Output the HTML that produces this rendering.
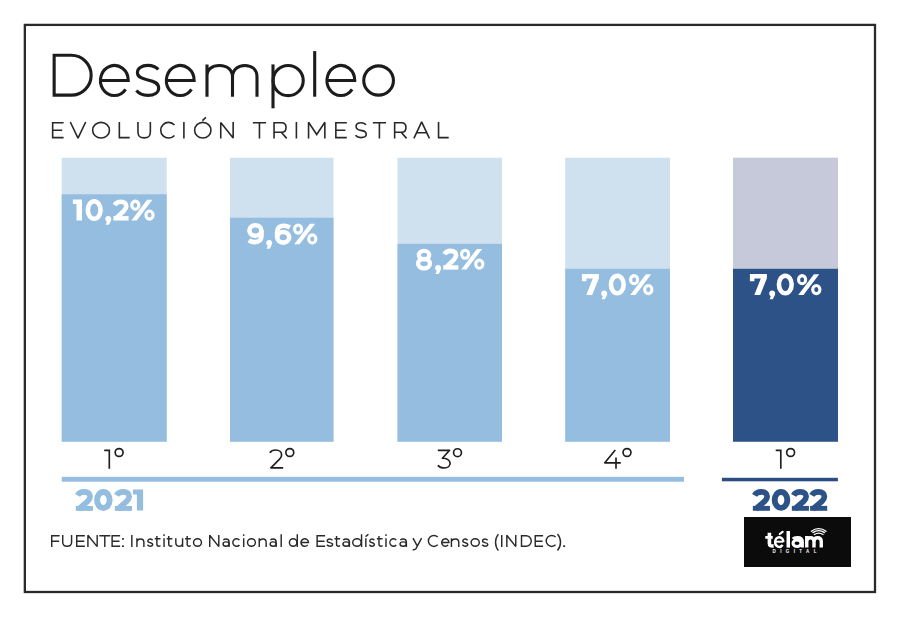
<!DOCTYPE html>
<html><head><meta charset="utf-8">
<style>
html,body{margin:0;padding:0;background:#fff;}
body{width:900px;height:617px;position:relative;overflow:hidden;font-family:"Liberation Sans",sans-serif;}
.t{position:absolute;white-space:nowrap;line-height:1;transform-origin:0 0;}
.r{position:absolute;}
</style></head><body>
<svg class="r" style="left:0;top:0" width="900" height="617" viewBox="0 0 900 617">
<g>
<rect x="24.85" y="24.9" width="850.15" height="567.1" fill="none" stroke="#2a2a2a" stroke-width="2.3"/>
<rect x="61.7" y="157.7" width="105" height="284" fill="#cfe1ef"/><rect x="61.7" y="194.3" width="105" height="247.4" fill="#95bde0"/>
<rect x="230" y="157.7" width="103.5" height="284" fill="#cfe1ef"/><rect x="230" y="217.75" width="103.5" height="223.95" fill="#95bde0"/>
<rect x="397.5" y="157.7" width="104.5" height="284" fill="#cfe1ef"/><rect x="397.5" y="243.8" width="104.5" height="197.9" fill="#95bde0"/>
<rect x="565.2" y="157.7" width="104.8" height="284" fill="#cfe1ef"/><rect x="565.2" y="268.8" width="104.8" height="172.9" fill="#95bde0"/>
<rect x="733" y="157.7" width="105" height="284" fill="#c6c9da"/><rect x="733" y="268.8" width="105" height="172.9" fill="#2c5287"/>
<rect x="61.8" y="476.9" width="622.2" height="4.8" fill="#95bde0"/>
<rect x="721.9" y="477.8" width="116" height="3.5" fill="#2b4c82"/>
<rect x="744" y="517" width="107" height="50" fill="#0b0b0b"/>
</g><g fill="none" stroke="#1e1e1e" stroke-width="1.65" stroke-linejoin="miter" stroke-linecap="butt">
<path d="M104.2,450.3 H109.3 V468.8"/><circle cx="119.1" cy="452.5" r="3.95"/>
<path stroke-linejoin="round" d="M269.9,452.8 C271,450.9 273.2,450 275.9,450 C279.2,450 281.6,452 281.6,454.9 C281.6,456.4 281,457.7 279.6,459.1 L270.9,467.9 H283.2"/><circle cx="289.8" cy="452.5" r="3.95"/>
<path stroke-linejoin="round" d="M437.8,450.3 H449.6 L442.4,458.3 C446.8,458.1 450.1,460.4 450.1,463.3 C450.1,466.1 447.8,468 444.5,468 C441.7,468 439.3,467.1 437.8,465.4"/><circle cx="457.5" cy="452.7" r="3.95"/>
<path stroke-linejoin="round" d="M615.3,449.9 L604.8,462.8 H620.8 M616,457.4 V468.8"/><circle cx="627" cy="452.5" r="3.95"/>
<path d="M775.7,450.3 H780.8 V468.8"/><circle cx="790.6" cy="452.5" r="3.95"/>
</g>
<g fill="none" stroke="#fff" stroke-width="1.35" stroke-linecap="round"><path d="M811.45,531.3 A11.4,11.4 0 0 1 825.95,531.3"/><path d="M812.95,532.6 A9.25,9.25 0 0 1 824.45,532.6"/><path d="M814.35,534.5 A7.9,7.9 0 0 1 823.05,534.5"/></g>
<g fill="none" stroke="#1c1c1c" stroke-width="3.1"><path d="M54.15,55.25 H71.2 A19.95,19.95 0 0 1 71.2,95.15 H54.15 Z" stroke-linejoin="miter"/><path d="M100.45,80.45 H128.25 A13.9,15.0 0 1 0 125.60,89.27"/><path d="M158.3,69.6 C155.8,66.6 152,65.4 147.8,65.4 C141.4,65.4 137.4,68.4 137.4,72.4 C137.4,77.2 142,78.6 147.8,79.9 C154.4,81.3 158.7,83 158.7,88.1 C158.7,92.6 154.4,95.4 147.8,95.4 C142.9,95.4 138.9,93.6 136.4,90.6"/><path d="M166.35,80.45 H194.15 A13.9,15.0 0 1 0 191.50,89.27"/><path d="M207,64.4 V96.7 M207,76 C207,69.5 212,65.45 219.5,65.45 C227.5,65.45 232.5,70 232.5,77 V96.7 M232.5,77 C232.5,70 237.5,65.45 244.8,65.45 C252.5,65.45 257,70 257,77 V96.7"/><path d="M273,64.4 V108.3"/><circle cx="288.15" cy="80.55" r="15.1"/><path d="M314.7,51.1 V96.7"/><path d="M326.95,80.45 H354.75 A13.9,15.0 0 1 0 352.10,89.27"/><ellipse cx="378.6" cy="80.5" rx="14.85" ry="14.65"/></g><g fill="none" stroke="#282828" stroke-width="1.6" stroke-miterlimit="2"><path d="M63.60,122.75 H52.65 V137.65 H63.60 M52.65,130.20 H62.20 M70.30,122.00 L78.00,138.10 L85.70,122.00 M119.35,122.00 V137.65 H129.70 M137.95,122.00 V131.80 C137.95,136.15 139.50,137.85 144.15,137.85 C148.80,137.85 150.35,136.15 150.35,131.80 V122.00 M174.43,124.95 A7.85,7.85 0 1 0 174.43,135.45 M183.90,122.00 V138.40 M202.4,120.6 L205.9,117.3 M220.75,138.40 V122.40 L233.15,138.00 V122.00 M252.80,122.75 H266.10 M259.45,122.75 V138.40 M274.05,138.40 V122.75 H281.65 C284.55,122.75 286.05,124.75 286.05,127.47 C286.05,130.20 284.55,132.20 281.65,132.20 H274.05 M281.25,132.20 L286.70,138.40 M296.40,122.00 V138.40 M308.55,138.40 V122.30 L316.70,134.45 L324.85,122.30 V138.40 M346.80,122.75 H335.85 V137.65 H346.80 M335.85,130.20 H345.40 M366.05,124.75 C364.65,123.35 362.75,122.75 360.95,122.75 C358.05,122.75 356.05,124.25 356.05,126.45 C356.05,129.40 358.65,130.00 360.95,130.40 C363.75,130.80 366.25,131.60 366.25,134.35 C366.25,136.55 364.05,137.65 360.95,137.65 C358.55,137.65 356.65,136.75 355.45,135.35 M372.80,122.75 H386.00 M379.40,122.75 V138.40 M394.65,138.40 V122.75 H401.55 C404.45,122.75 405.95,124.75 405.95,127.47 C405.95,130.20 404.45,132.20 401.55,132.20 H394.65 M401.15,132.20 L406.60,138.40 M413.90,138.40 L421.65,121.80 L429.40,138.40 M416.90,132.7 H426.40 M438.55,122.00 V137.65 H448.70"/><ellipse cx="101.05" cy="130.20" rx="8.40" ry="7.85"/><ellipse cx="202.80" cy="130.20" rx="8.15" ry="7.85"/></g><g transform="translate(72.90,199.50)"><path fill="#fff" d="M0,0 H9.1 V21 H3.6 V4.4 H0 Z"/></g><g transform="translate(85.50,199.50)"><ellipse fill="none" stroke="#fff" stroke-width="4.6" cx="8.7" cy="10.5" rx="6.35" ry="8.8"/></g><g transform="translate(105.00,199.50)"><path fill="#fff" d="M3.2,16.5 C5,16.5 6.3,17.7 6.3,19.4 C6.3,20.4 6,21.2 5.4,22.4 L3.9,25.3 H0.7 L1.9,22.2 C0.9,21.6 0.3,20.6 0.3,19.4 C0.3,17.7 1.5,16.5 3.2,16.5 Z"/></g><g transform="translate(113.10,199.50)"><path fill="#fff" d="M0.3,16.6 H15.5 V21 H0.3 Z"/><path fill="none" stroke="#fff" stroke-width="4.6" d="M1.6,5.6 C2.9,3.1 5.2,2.3 7.8,2.3 C11.3,2.3 13.2,4.1 13.2,6.7 C13.2,8.3 12.5,9.6 10.8,11.3 L2.6,19.2"/></g><g transform="translate(130.20,199.50)"><ellipse fill="none" stroke="#fff" stroke-width="3.1" cx="5.1" cy="5.65" rx="3.55" ry="4.05"/><path fill="#fff" d="M16.9,0.3 H22.2 L6.5,20.9 H1.2 Z"/><ellipse fill="none" stroke="#fff" stroke-width="3.1" cx="19.3" cy="15.55" rx="3.6" ry="4.05"/></g><g transform="translate(246.90,223.40)"><g><ellipse fill="none" stroke="#fff" stroke-width="4.6" cx="8.5" cy="7.1" rx="6.0" ry="5.3"/><path fill="none" stroke="#fff" stroke-width="4.6" d="M14.6,7 V12.3 C14.6,16.8 11.8,18.7 8.1,18.7 C5.7,18.7 3.7,18.1 1.9,16.9"/></g></g><g transform="translate(265.90,223.40)"><path fill="#fff" d="M3.2,16.5 C5,16.5 6.3,17.7 6.3,19.4 C6.3,20.4 6,21.2 5.4,22.4 L3.9,25.3 H0.7 L1.9,22.2 C0.9,21.6 0.3,20.6 0.3,19.4 C0.3,17.7 1.5,16.5 3.2,16.5 Z"/></g><g transform="translate(274.70,223.40)"><g transform="rotate(180 8.5 10.5)"><ellipse fill="none" stroke="#fff" stroke-width="4.6" cx="8.5" cy="7.1" rx="6.0" ry="5.3"/><path fill="none" stroke="#fff" stroke-width="4.6" d="M14.6,7 V12.3 C14.6,16.8 11.8,18.7 8.1,18.7 C5.7,18.7 3.7,18.1 1.9,16.9"/></g></g><g transform="translate(293.00,223.40)"><ellipse fill="none" stroke="#fff" stroke-width="3.1" cx="5.1" cy="5.65" rx="3.55" ry="4.05"/><path fill="#fff" d="M16.9,0.3 H22.2 L6.5,20.9 H1.2 Z"/><ellipse fill="none" stroke="#fff" stroke-width="3.1" cx="19.3" cy="15.55" rx="3.6" ry="4.05"/></g><g transform="translate(415.60,248.60)"><ellipse fill="none" stroke="#fff" stroke-width="4.2" cx="8.4" cy="6.5" rx="5.2" ry="4.35"/><ellipse fill="none" stroke="#fff" stroke-width="4.3" cx="8.4" cy="15.0" rx="5.95" ry="4.75"/></g><g transform="translate(434.80,248.60)"><path fill="#fff" d="M3.2,16.5 C5,16.5 6.3,17.7 6.3,19.4 C6.3,20.4 6,21.2 5.4,22.4 L3.9,25.3 H0.7 L1.9,22.2 C0.9,21.6 0.3,20.6 0.3,19.4 C0.3,17.7 1.5,16.5 3.2,16.5 Z"/></g><g transform="translate(442.90,248.60)"><path fill="#fff" d="M0.3,16.6 H15.5 V21 H0.3 Z"/><path fill="none" stroke="#fff" stroke-width="4.6" d="M1.6,5.6 C2.9,3.1 5.2,2.3 7.8,2.3 C11.3,2.3 13.2,4.1 13.2,6.7 C13.2,8.3 12.5,9.6 10.8,11.3 L2.6,19.2"/></g><g transform="translate(460.00,248.60)"><ellipse fill="none" stroke="#fff" stroke-width="3.1" cx="5.1" cy="5.65" rx="3.55" ry="4.05"/><path fill="#fff" d="M16.9,0.3 H22.2 L6.5,20.9 H1.2 Z"/><ellipse fill="none" stroke="#fff" stroke-width="3.1" cx="19.3" cy="15.55" rx="3.6" ry="4.05"/></g><g transform="translate(581.90,274.00)"><path fill="#fff" d="M0,0 H17 V4.2 L10.3,21 H4.4 L10.9,4.4 H4.5 V7.3 H0 Z"/></g><g transform="translate(600.90,274.00)"><path fill="#fff" d="M3.2,16.5 C5,16.5 6.3,17.7 6.3,19.4 C6.3,20.4 6,21.2 5.4,22.4 L3.9,25.3 H0.7 L1.9,22.2 C0.9,21.6 0.3,20.6 0.3,19.4 C0.3,17.7 1.5,16.5 3.2,16.5 Z"/></g><g transform="translate(608.60,274.00)"><ellipse fill="none" stroke="#fff" stroke-width="4.6" cx="8.7" cy="10.5" rx="6.35" ry="8.8"/></g><g transform="translate(629.00,274.00)"><ellipse fill="none" stroke="#fff" stroke-width="3.1" cx="5.1" cy="5.65" rx="3.55" ry="4.05"/><path fill="#fff" d="M16.9,0.3 H22.2 L6.5,20.9 H1.2 Z"/><ellipse fill="none" stroke="#fff" stroke-width="3.1" cx="19.3" cy="15.55" rx="3.6" ry="4.05"/></g><g transform="translate(749.90,274.00)"><path fill="#fff" d="M0,0 H17 V4.2 L10.3,21 H4.4 L10.9,4.4 H4.5 V7.3 H0 Z"/></g><g transform="translate(768.90,274.00)"><path fill="#fff" d="M3.2,16.5 C5,16.5 6.3,17.7 6.3,19.4 C6.3,20.4 6,21.2 5.4,22.4 L3.9,25.3 H0.7 L1.9,22.2 C0.9,21.6 0.3,20.6 0.3,19.4 C0.3,17.7 1.5,16.5 3.2,16.5 Z"/></g><g transform="translate(776.60,274.00)"><ellipse fill="none" stroke="#fff" stroke-width="4.6" cx="8.7" cy="10.5" rx="6.35" ry="8.8"/></g><g transform="translate(797.00,274.00)"><ellipse fill="none" stroke="#fff" stroke-width="3.1" cx="5.1" cy="5.65" rx="3.55" ry="4.05"/><path fill="#fff" d="M16.9,0.3 H22.2 L6.5,20.9 H1.2 Z"/><ellipse fill="none" stroke="#fff" stroke-width="3.1" cx="19.3" cy="15.55" rx="3.6" ry="4.05"/></g><g transform="translate(75.20,489.10)"><path fill="#95bde0" d="M0.6,16.9 H17.7 V21.8 H0.6 Z"/><path fill="none" stroke="#95bde0" stroke-width="5.7" d="M2.3,6.3 C3.8,3.6 6.3,2.85 9.1,2.85 C12.9,2.85 14.9,4.8 14.9,7.5 C14.9,9.2 14.1,10.6 12.3,12.4 L3.5,20"/></g><g transform="translate(94.10,489.10)"><ellipse fill="none" stroke="#95bde0" stroke-width="5.9" cx="9.25" cy="10.9" rx="6.3" ry="7.95"/></g><g transform="translate(114.30,489.10)"><path fill="#95bde0" d="M0.6,16.9 H17.7 V21.8 H0.6 Z"/><path fill="none" stroke="#95bde0" stroke-width="5.7" d="M2.3,6.3 C3.8,3.6 6.3,2.85 9.1,2.85 C12.9,2.85 14.9,4.8 14.9,7.5 C14.9,9.2 14.1,10.6 12.3,12.4 L3.5,20"/></g><g transform="translate(133.00,489.10)"><path fill="#95bde0" d="M0,0.4 H10.1 V21.5 H3.9 V5.4 H0 Z"/></g><g transform="translate(752.25,489.00)"><path fill="#2c5287" d="M0.6,16.9 H17.7 V21.8 H0.6 Z"/><path fill="none" stroke="#2c5287" stroke-width="5.7" d="M2.3,6.3 C3.8,3.6 6.3,2.85 9.1,2.85 C12.9,2.85 14.9,4.8 14.9,7.5 C14.9,9.2 14.1,10.6 12.3,12.4 L3.5,20"/></g><g transform="translate(771.75,489.00)"><ellipse fill="none" stroke="#2c5287" stroke-width="5.9" cx="9.25" cy="10.9" rx="6.3" ry="7.95"/></g><g transform="translate(791.25,489.00)"><path fill="#2c5287" d="M0.6,16.9 H17.7 V21.8 H0.6 Z"/><path fill="none" stroke="#2c5287" stroke-width="5.7" d="M2.3,6.3 C3.8,3.6 6.3,2.85 9.1,2.85 C12.9,2.85 14.9,4.8 14.9,7.5 C14.9,9.2 14.1,10.6 12.3,12.4 L3.5,20"/></g><g transform="translate(809.50,489.00)"><path fill="#2c5287" d="M0.6,16.9 H17.7 V21.8 H0.6 Z"/><path fill="none" stroke="#2c5287" stroke-width="5.7" d="M2.3,6.3 C3.8,3.6 6.3,2.85 9.1,2.85 C12.9,2.85 14.9,4.8 14.9,7.5 C14.9,9.2 14.1,10.6 12.3,12.4 L3.5,20"/></g><g fill="none" stroke="#fff">
<path stroke-width="3.6" d="M769.4,532.75 V543.4 C769.4,546 770.8,546.1 773.6,545.9"/>
<path stroke-width="2.75" d="M765.25,537.4 H772.75"/>
<path stroke-width="2.4" d="M775.15,541.9 A4.1,4.7 0 1 1 783.35,541.9 M775.15,541.9 A4.1,4.7 0 0 0 782.6,544.9"/><path stroke-width="2.0" d="M775.2,541.7 H783.3"/>
<path stroke-width="2.2" stroke-linecap="round" d="M779.8,534 L782.6,531.8"/>
<path stroke-width="3.5" d="M788.25,531 V547.6"/>
<ellipse stroke-width="3.0" cx="797" cy="543.3" rx="4.0" ry="3.2"/>
<path stroke-width="3.3" d="M793,538.9 C794,537.6 795.6,537.65 797.4,537.65 C800.6,537.65 802.25,538.9 802.25,541.6 V547.6"/>
<path stroke-width="3.4" d="M806.75,547.6 V536.1 M806.75,541.5 C806.75,538.9 808.3,537.7 810.4,537.7 C812.7,537.7 814,538.9 814,541.5 V547.6 M814,541.5 C814,538.9 815.5,537.7 817.6,537.7 C819.9,537.7 821.25,538.9 821.25,541.5 V547.6"/>
</g><g fill="#2a2a2a"><style>.s{fill:none;stroke:#2a2a2a;stroke-width:1.45}</style><path fill="none" stroke="#2a2a2a" stroke-width="1.45" stroke-miterlimit="1.6" d="M59.70,535.73 H51.73 V546.90 M51.73,541.15 H59.20 M62.73,535.00 V542.15 C62.73,544.97 63.83,546.17 67.15,546.17 C70.47,546.17 71.58,544.97 71.58,542.15 V535.00 M84.90,535.73 H76.72 V546.17 H84.90 M76.72,541.15 H84.30 M87.92,546.90 V535.30 L97.18,546.60 V535.00 M99.30,535.73 H110.30 M104.80,535.73 V546.90 M120.10,535.73 H112.12 V546.17 H120.10 M112.12,541.15 H119.50 M131.85,535.00 V546.90 M136.92,538.20 V546.90 M136.92,542.23 C136.92,540.03 138.80,538.93 140.80,538.93 C142.47,538.93 143.88,540.13 143.88,542.53 V546.90 M152.58,540.23 C151.58,539.23 151.35,538.93 150.15,538.93 C149.12,538.93 147.82,539.93 147.82,541.13 C147.82,542.25 149.62,542.45 150.15,542.65 C150.88,542.85 152.68,543.25 152.68,544.17 C152.68,545.57 151.18,546.17 150.15,546.17 C148.45,546.17 148.22,545.67 147.43,544.77 M156.89,535.9 V544.17 C156.89,545.77 157.79,546.17 158.99,546.17 C159.10,546.17 159.80,545.97 160.50,545.47 M154.80,538.70 H160.50 M164.05,538.20 V546.90 M168.76,535.9 V544.17 C168.76,545.77 169.66,546.17 170.86,546.17 C170.90,546.17 171.60,545.97 172.30,545.47 M166.70,538.70 H172.30 M182.58,538.20 V546.90 M182.58,542.88 C182.58,545.07 180.80,546.17 178.80,546.17 C177.22,546.17 175.82,544.97 175.82,542.57 V538.20 M187.19,535.9 V544.17 C187.19,545.77 188.09,546.17 189.29,546.17 C189.40,546.17 190.10,545.97 190.80,545.47 M185.10,538.70 H190.80 M209.72,546.90 V535.30 L218.78,546.60 V535.00 M223.33,540.03 C224.12,539.18 225.33,538.93 226.05,538.93 C227.78,538.93 229.08,540.03 229.08,542.13 V546.90 M239.48,540.12 A3.77,3.77 0 1 0 239.48,544.98 M243.70,538.20 V546.90 M259.23,538.20 V546.90 M259.23,542.23 C259.23,540.03 261.10,538.93 263.10,538.93 C264.77,538.93 266.17,540.13 266.17,542.53 V546.90 M270.43,540.03 C271.23,539.18 272.43,538.93 273.15,538.93 C274.87,538.93 276.17,540.03 276.17,542.13 V546.90 M281.20,534.30 V546.90 M297.27,534.30 V546.90 M301.03,542.55 H308.47 A3.72,3.77 0 1 0 307.69,544.87 M325.10,535.73 H317.12 V546.17 H325.10 M317.12,541.15 H324.50 M332.47,540.23 C331.47,539.23 331.00,538.93 329.80,538.93 C328.53,538.93 327.23,539.93 327.23,541.13 C327.23,542.25 329.03,542.45 329.80,542.65 C330.77,542.85 332.57,543.25 332.57,544.17 C332.57,545.57 331.07,546.17 329.80,546.17 C328.10,546.17 327.63,545.67 326.83,544.77 M336.56,535.9 V544.17 C336.56,545.77 337.46,546.17 338.66,546.17 C338.70,546.17 339.40,545.97 340.10,545.47 M334.50,538.70 H340.10 M343.23,540.03 C344.03,539.18 345.23,538.93 346.15,538.93 C348.07,538.93 349.38,540.03 349.38,542.13 V546.90 M361.57,534.30 V546.90 M365.85,538.20 V546.90 M365.55,536.6 L368.45,534.2 M374.27,540.23 C373.27,539.23 373.20,538.93 372.00,538.93 C371.12,538.93 369.82,539.93 369.82,541.13 C369.82,542.25 371.62,542.45 372.00,542.65 C372.57,542.85 374.38,543.25 374.38,544.17 C374.38,545.57 372.88,546.17 372.00,546.17 C370.30,546.17 370.23,545.67 369.43,544.77 M378.99,535.9 V544.17 C378.99,545.77 379.89,546.17 381.09,546.17 C381.20,546.17 381.90,545.97 382.60,545.47 M376.90,538.70 H382.60 M386.00,538.20 V546.90 M396.22,540.12 A3.56,3.77 0 1 0 396.22,544.98 M400.33,540.03 C401.13,539.18 402.33,538.93 403.20,538.93 C405.07,538.93 406.38,540.03 406.38,542.13 V546.90 M413.00,538.20 L417.60,546.70 M421.60,538.20 L416.00,548.70 C415.30,549.70 414.30,550.10 412.70,549.70 M437.74,537.08 A5.47,5.47 0 1 0 437.74,544.82 M441.73,542.55 H448.88 A3.58,3.77 0 1 0 448.12,544.87 M451.43,538.20 V546.90 M451.43,542.23 C451.43,540.03 453.50,538.93 455.50,538.93 C457.38,538.93 458.77,540.13 458.77,542.53 V546.90 M467.67,540.23 C466.67,539.23 466.40,538.93 465.20,538.93 C464.12,538.93 462.82,539.93 462.82,541.13 C462.82,542.25 464.62,542.45 465.20,542.65 C465.97,542.85 467.77,543.25 467.77,544.17 C467.77,545.57 466.27,546.17 465.20,546.17 C463.50,546.17 463.23,545.67 462.43,544.77 M487.67,540.23 C486.67,539.23 486.25,538.93 485.05,538.93 C483.83,538.93 482.53,539.93 482.53,541.13 C482.53,542.25 484.33,542.45 485.05,542.65 C485.97,542.85 487.77,543.25 487.77,544.17 C487.77,545.57 486.27,546.17 485.05,546.17 C483.35,546.17 482.93,545.67 482.13,544.77 M498.40,534.10 C494.60,538.60 494.60,546.10 498.40,550.60 M501.75,535.00 V546.90 M506.83,546.90 V535.30 L515.77,546.60 V535.00 M521.52,535.73 H526.05 A5.22,5.22 0 0 1 526.05,546.17 H521.52 Z M543.10,535.73 H535.23 V546.17 H543.10 M535.23,541.15 H542.50 M555.57,537.08 A5.47,5.47 0 1 0 555.57,544.82 M557.50,534.10 C561.50,538.60 561.50,546.10 557.50,550.60"/><rect x="122.00" y="537.9" width="1.9" height="1.8" rx="0.5"/><rect x="122.00" y="545.2" width="1.9" height="1.8" rx="0.5"/><circle cx="164.05" cy="535.1" r="0.95"/><ellipse class="s" cx="197.50" cy="542.55" rx="3.97" ry="3.77"/><ellipse class="s" cx="226.05" cy="544.05" rx="3.03" ry="2.20"/><circle cx="243.70" cy="535.1" r="0.95"/><ellipse class="s" cx="251.45" cy="542.55" rx="3.93" ry="3.77"/><ellipse class="s" cx="273.15" cy="544.05" rx="3.02" ry="2.20"/><ellipse class="s" cx="293.15" cy="542.55" rx="3.73" ry="3.77"/><ellipse class="s" cx="346.15" cy="544.05" rx="3.22" ry="2.20"/><ellipse class="s" cx="356.95" cy="542.55" rx="4.23" ry="3.77"/><circle cx="386.00" cy="535.1" r="0.95"/><ellipse class="s" cx="403.20" cy="544.05" rx="3.17" ry="2.20"/><ellipse class="s" cx="475.20" cy="542.55" rx="4.08" ry="3.77"/><rect x="563.15" y="545.2" width="2.0" height="1.8" rx="0.5"/></g></svg>
<div class="t" id="dig" style="left:772.60px;top:549.59px;font-size:4.50px;color:#fff;font-weight:bold;letter-spacing:4.37px;">DIGITAL</div>
</body></html>
